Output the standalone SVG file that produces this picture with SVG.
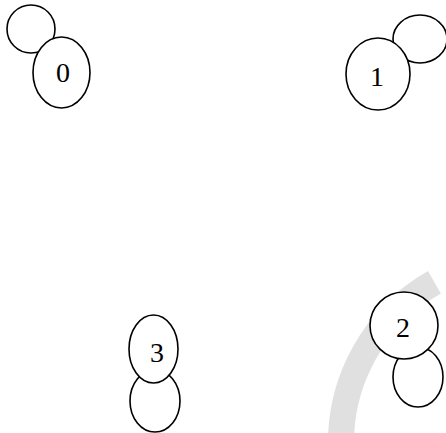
<svg xmlns="http://www.w3.org/2000/svg" width="446" height="433" viewBox="0 0 446 433">
<style>
.n{fill:#fff;stroke:#000;stroke-width:1.6}
.l{fill:none;stroke:#000;stroke-width:1.6}
text{font-family:"Liberation Serif","Times New Roman",serif;font-size:28px;text-anchor:middle;fill:#000}
</style>
<rect width="446" height="433" fill="#fff"/>
<path d="M434.4,282.3 A185,185 0 0 0 341.1,450" fill="none" stroke="#e0e0e0" stroke-width="26"/>
<g id="connectors">
<circle class="l" cx="31" cy="29" r="24"/>
<ellipse class="l" cx="420" cy="39" rx="27" ry="24"/>
<ellipse class="l" cx="418" cy="377" rx="25" ry="30"/>
<ellipse class="l" cx="155" cy="401" rx="25" ry="31"/>
</g>
<g id="node0"><ellipse class="n" cx="61.5" cy="72.5" rx="28.5" ry="35.5"/><text x="63" y="82">0</text></g>
<g id="node1"><ellipse class="n" cx="378" cy="74" rx="32" ry="36"/><text x="377" y="86">1</text></g>
<g id="node2"><ellipse class="n" cx="404" cy="325.5" rx="34" ry="33.5"/><text x="403" y="337">2</text></g>
<g id="node3"><ellipse class="n" cx="153.5" cy="349" rx="24.5" ry="34"/><text x="157" y="362">3</text></g>
</svg>
